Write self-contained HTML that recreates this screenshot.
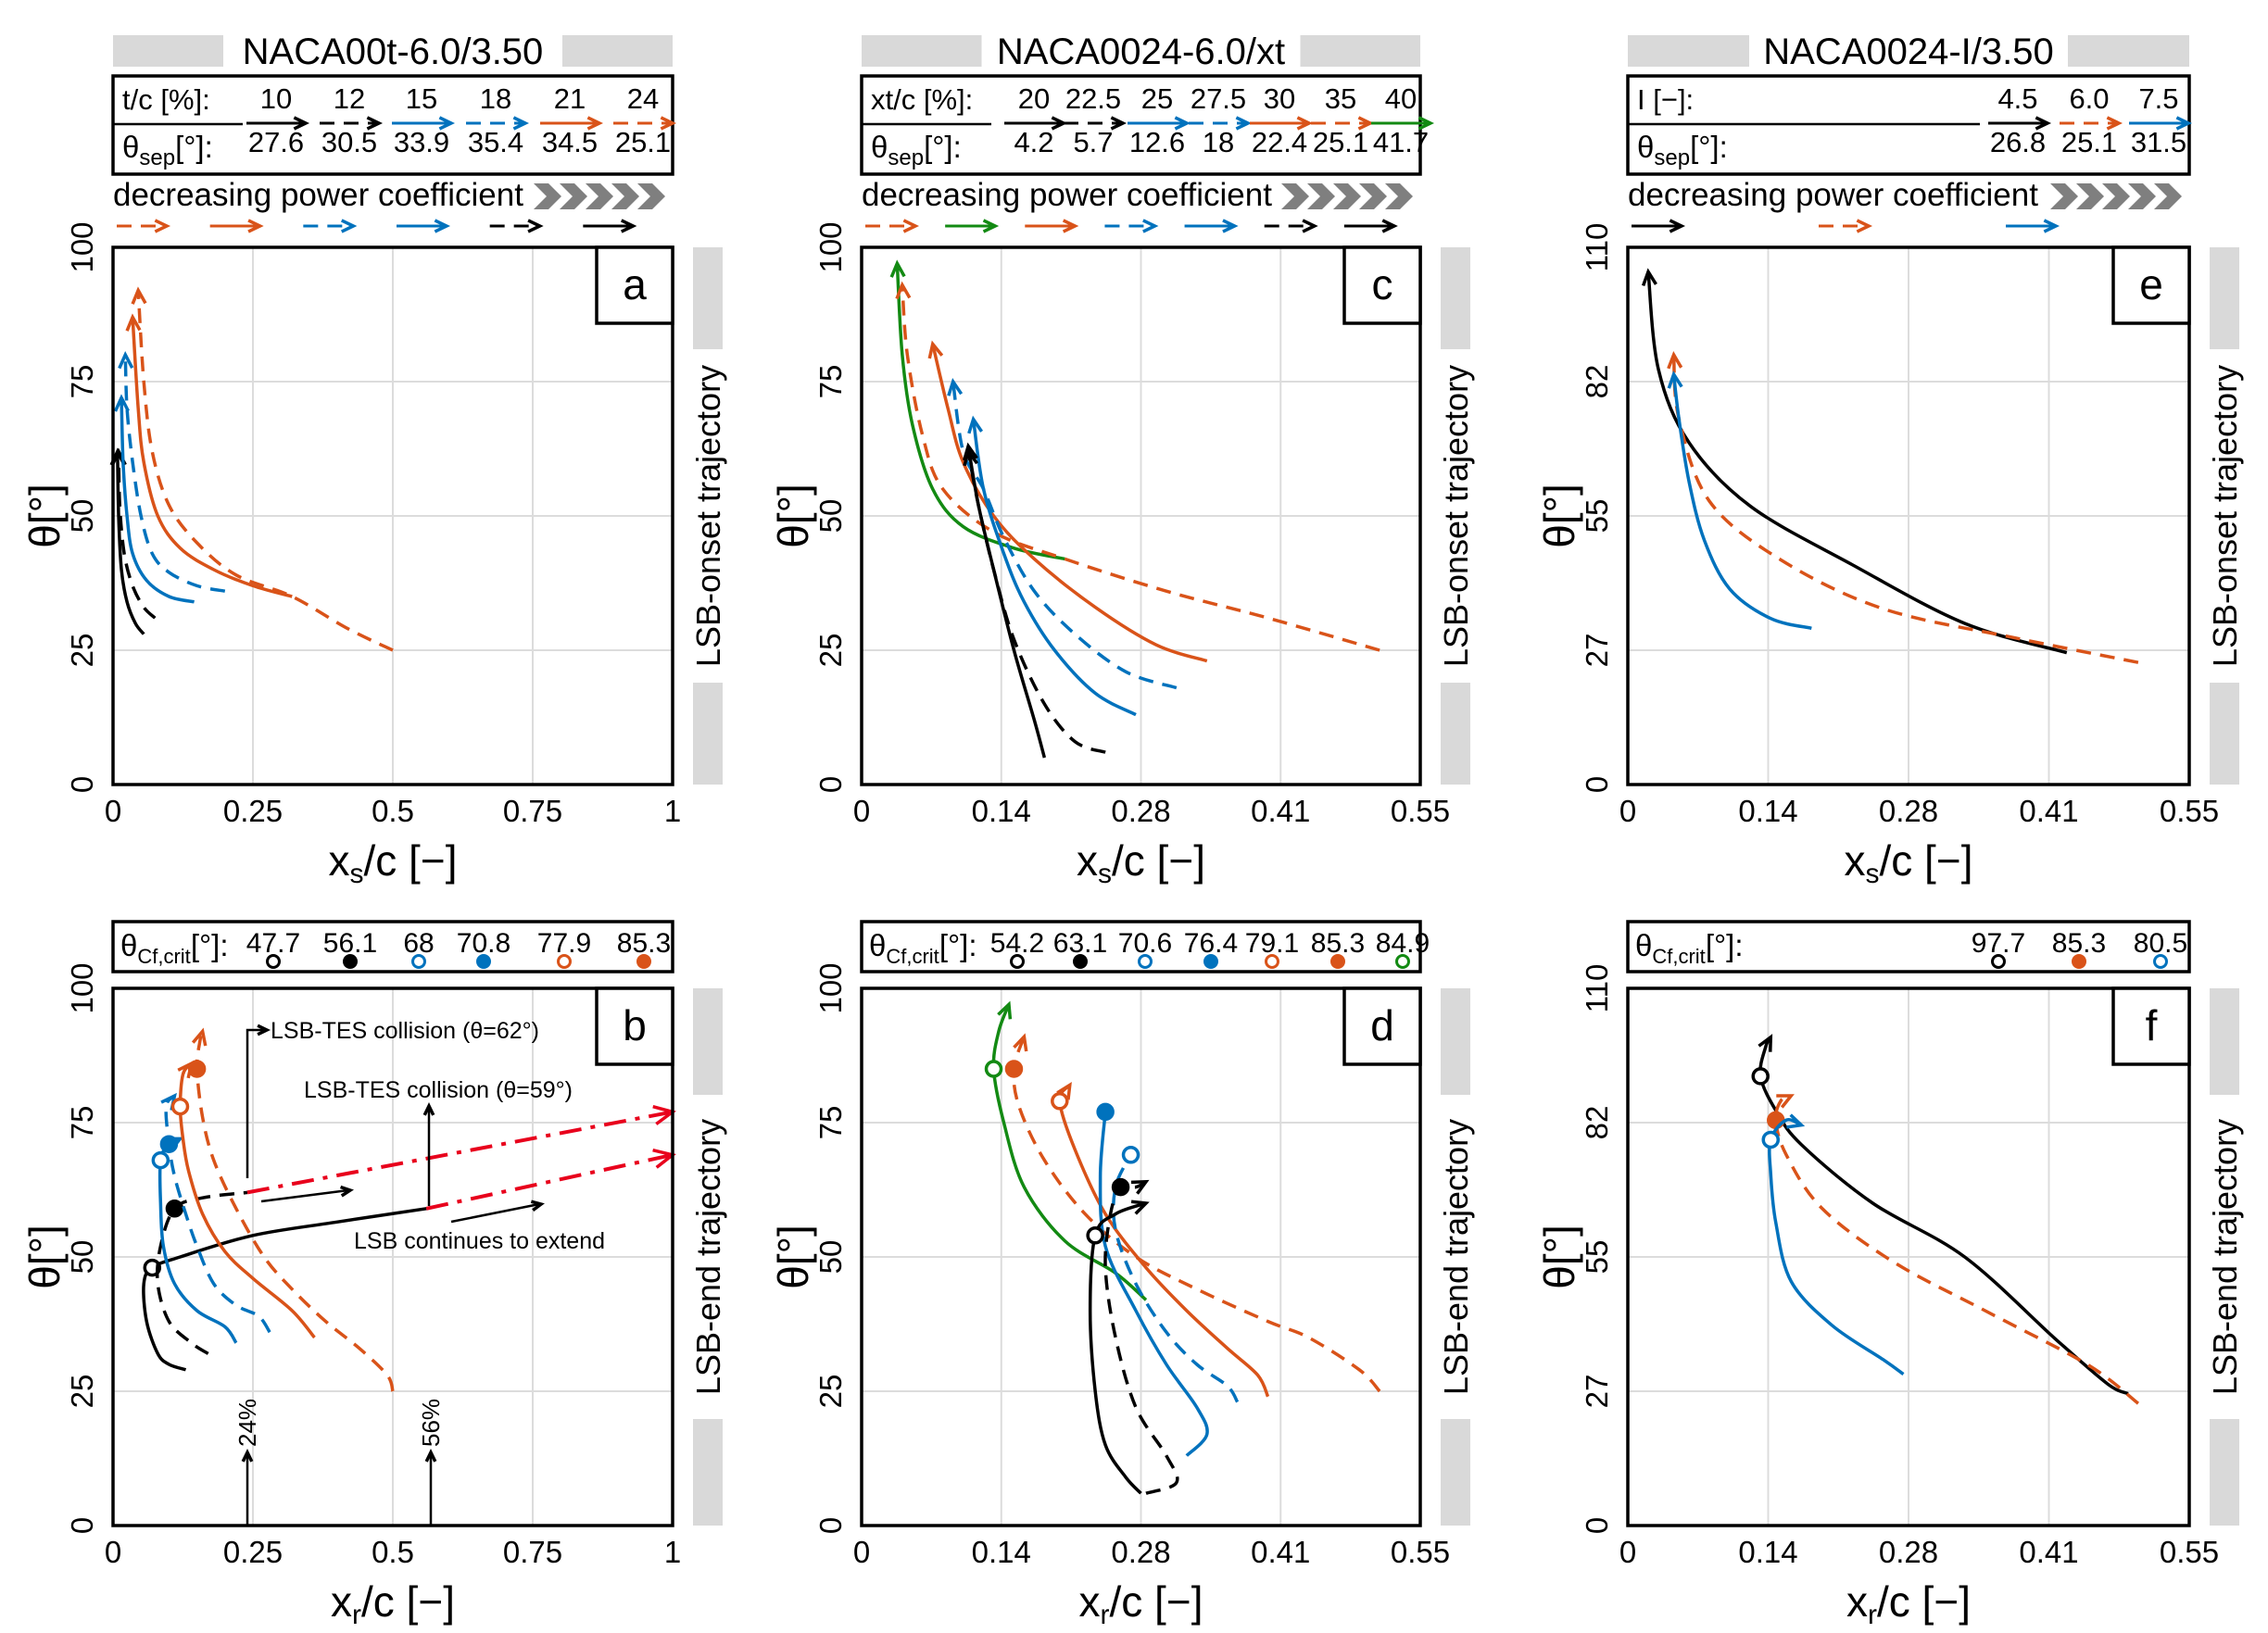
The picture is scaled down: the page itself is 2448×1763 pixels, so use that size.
<!DOCTYPE html>
<html><head><meta charset="utf-8"><style>
html,body{margin:0;padding:0;background:#fff}
svg{display:block;font-family:"Liberation Sans",sans-serif}
</style></head><body>
<svg id="fig" width="2448" height="1763" viewBox="0 0 2448 1763" xmlns="http://www.w3.org/2000/svg"></svg>
<script>
// ---- data ----
const C={k:'#000000',b:'#0072BD',o:'#D95319',g:'#138A13',r:'#E8001C'};
const aSeries=[
 {c:'k',d:0,p:[[0.055,28],[0.04,30],[0.025,34],[0.015,40],[0.01,50],[0.008,62]]},
 {c:'k',d:1,p:[[0.075,31],[0.055,33],[0.035,37],[0.02,43],[0.012,52],[0.01,62]]},
 {c:'b',d:0,p:[[0.145,34],[0.1,35],[0.06,38],[0.035,43],[0.025,50],[0.018,60],[0.015,72]]},
 {c:'b',d:1,p:[[0.2,36],[0.15,37],[0.1,39.5],[0.07,43],[0.05,50],[0.035,60],[0.025,70],[0.022,80]]},
 {c:'o',d:0,p:[[0.32,35],[0.25,37],[0.18,40],[0.12,44],[0.08,50],[0.055,60],[0.045,70],[0.035,87]]},
 {c:'o',d:1,p:[[0.5,25],[0.42,29],[0.32,35],[0.22,39],[0.15,45],[0.1,52],[0.07,62],[0.055,75],[0.045,92]]}];
const cSeries=[
 {c:'g',d:0,p:[[0.2,42],[0.15,44],[0.1,48],[0.07,55],[0.05,67],[0.04,80],[0.035,97]]},
 {c:'o',d:1,p:[[0.51,25],[0.4,31],[0.3,36],[0.2,42],[0.13,47],[0.08,55],[0.06,65],[0.045,80],[0.04,93]]},
 {c:'o',d:0,p:[[0.34,23],[0.29,26],[0.23,33],[0.17,42],[0.13,50],[0.1,60],[0.085,70],[0.07,82]]},
 {c:'b',d:1,p:[[0.31,18],[0.26,21],[0.21,28],[0.17,36],[0.14,46],[0.12,55],[0.1,62],[0.09,75]]},
 {c:'b',d:0,p:[[0.27,13],[0.23,17],[0.19,25],[0.16,34],[0.14,43],[0.12,55],[0.11,68]]},
 {c:'k',d:1,p:[[0.24,6],[0.21,8],[0.18,15],[0.15,27],[0.13,40],[0.115,52],[0.105,62]]},
 {c:'k',d:0,p:[[0.18,5],[0.17,12],[0.15,25],[0.13,40],[0.115,52],[0.105,63]]}];
const eSeries=[
 {c:'k',d:0,p:[[0.43,27],[0.33,33],[0.22,45],[0.12,57],[0.06,70],[0.03,85],[0.02,105]]},
 {c:'o',d:1,p:[[0.5,25],[0.38,30],[0.25,36],[0.15,46],[0.08,58],[0.05,75],[0.045,88]]},
 {c:'b',d:0,p:[[0.18,32],[0.14,34],[0.1,40],[0.075,50],[0.06,62],[0.05,75],[0.045,84]]}];
const bSeries=[
 {c:'k',d:0,m:[0.07,48,0],p:[[0.13,29],[0.1,30],[0.08,32],[0.06,38],[0.055,45],[0.07,48],[0.12,50],[0.25,54],[0.4,56.5],[0.56,59]],noArrow:1},
 {c:'k',d:1,m:[0.11,59,1],p:[[0.17,32],[0.14,34],[0.1,38],[0.08,45],[0.085,52],[0.11,59],[0.16,61],[0.24,62]],noArrow:1},
 {c:'b',d:0,m:[0.085,68,0],p:[[0.22,34],[0.2,37],[0.15,40],[0.11,45],[0.09,52],[0.085,60],[0.085,68],[0.1,71],[0.12,72]]},
 {c:'b',d:1,m:[0.1,71,1],p:[[0.28,36],[0.26,39],[0.22,41],[0.18,45],[0.15,52],[0.13,58],[0.11,65],[0.1,71],[0.095,78],[0.11,80]]},
 {c:'o',d:0,m:[0.12,78,0],p:[[0.36,35],[0.32,40],[0.25,46],[0.2,51],[0.16,58],[0.135,66],[0.125,72],[0.12,78],[0.125,84],[0.14,86]]},
 {c:'o',d:1,m:[0.15,85,1],p:[[0.5,25],[0.49,28],[0.44,33],[0.38,38],[0.32,44],[0.27,50],[0.22,59],[0.18,68],[0.16,76],[0.15,85],[0.155,90],[0.16,92]]},
 {c:'r',d:2,p:[[0.56,59],[1,69]]},
 {c:'r',d:2,p:[[0.24,62],[1,77]]}];
const dSeries=[
 {c:'g',d:0,m:[0.13,85,0],p:[[0.28,42],[0.25,47],[0.2,53],[0.16,63],[0.14,75],[0.13,85],[0.135,92],[0.145,97]]},
 {c:'o',d:1,m:[0.15,85,1],p:[[0.51,25],[0.49,29],[0.44,35],[0.4,38],[0.33,44],[0.27,50],[0.22,58],[0.18,68],[0.155,78],[0.15,85],[0.16,91]]},
 {c:'o',d:0,m:[0.195,79,0],p:[[0.4,24],[0.39,28],[0.36,33],[0.32,40],[0.28,48],[0.24,58],[0.21,70],[0.195,79],[0.205,82]]},
 {c:'b',d:1,m:[0.265,69,0],p:[[0.37,23],[0.36,26],[0.33,30],[0.3,36],[0.27,45],[0.25,55],[0.25,63],[0.265,69]],noArrow:1},
 {c:'b',d:0,m:[0.24,77,1],p:[[0.32,13],[0.34,17],[0.33,22],[0.3,30],[0.27,40],[0.24,52],[0.235,65],[0.24,77]],noArrow:1},
 {c:'k',d:1,m:[0.255,63,1],p:[[0.28,6],[0.31,8],[0.3,13],[0.27,22],[0.25,35],[0.24,48],[0.245,58],[0.255,63],[0.27,63],[0.28,64]]},
 {c:'k',d:0,m:[0.23,54,0],p:[[0.275,6],[0.26,9],[0.24,15],[0.23,25],[0.225,40],[0.23,54],[0.25,58],[0.28,60]]}];
const fSeries=[
 {c:'k',d:0,m:[0.13,92,0],p:[[0.49,27],[0.47,29],[0.42,38],[0.33,55],[0.24,66],[0.17,78],[0.145,85],[0.13,92],[0.135,98],[0.14,100]]},
 {c:'o',d:1,m:[0.145,83,1],p:[[0.5,25],[0.45,33],[0.35,44],[0.26,54],[0.19,65],[0.155,76],[0.145,83],[0.15,87],[0.16,88]]},
 {c:'b',d:0,m:[0.14,79,0],p:[[0.27,31],[0.25,34],[0.2,41],[0.16,50],[0.145,62],[0.14,72],[0.14,79],[0.155,83],[0.17,82]]}];
const xTicks1=['0','0.25','0.5','0.75','1'];
const xTicks2=['0','0.14','0.28','0.41','0.55'];
const yTicks1=['0','25','50','75','100'];
const yTicks2=['0','27','55','82','110'];
const legA=['10','12','15','18','21','24'], sepA=['27.6','30.5','33.9','35.4','34.5','25.1'];
const legC=['20','22.5','25','27.5','30','35','40'], sepC=['4.2','5.7','12.6','18','22.4','25.1','41.7'];
const legE=['4.5','6.0','7.5'], sepE=['26.8','25.1','31.5'];
const critB=['47.7','56.1','68','70.8','77.9','85.3'], critD=['54.2','63.1','70.6','76.4','79.1','85.3','84.9'], critF=['97.7','85.3','80.5'];

// ---- helpers ----
const svg=document.getElementById('fig');const NS='http://www.w3.org/2000/svg';
function el(t,a,txt,parent){const e=document.createElementNS(NS,t);for(const k in a)e.setAttribute(k,a[k]);if(txt!=null)e.textContent=txt;(parent||svg).appendChild(e);return e;}
const DASH=['none','16 10','24 10 5 10'];
function smoothPath(pts){if(pts.length<3)return 'M'+pts.map(q=>q.join(',')).join(' L');
 let d='M'+pts[0][0]+','+pts[0][1];
 for(let i=0;i<pts.length-1;i++){const p0=pts[i-1]||pts[i],p1=pts[i],p2=pts[i+1],p3=pts[i+2]||p2;
  const c1=[p1[0]+(p2[0]-p0[0])/6,p1[1]+(p2[1]-p0[1])/6],c2=[p2[0]-(p3[0]-p1[0])/6,p2[1]-(p3[1]-p1[1])/6];
  d+=` C${c1[0]},${c1[1]} ${c2[0]},${c2[1]} ${p2[0]},${p2[1]}`;}
 return d;}
function arrowHead(x,y,px,py,col,g,sz){const a=Math.atan2(y-py,x-px);sz=sz||16;
 const p=[[x-sz*Math.cos(a-0.45),y-sz*Math.sin(a-0.45)],[x,y],[x-sz*Math.cos(a+0.45),y-sz*Math.sin(a+0.45)]];
 const e=el('polyline',{points:p.map(q=>q.join(',')).join(' '),fill:'none',stroke:col,'stroke-width':3.5},null,g);
 }
function arrowLine(x1,y1,x2,y2,col,dash,g,w){const e=el('line',{x1,y1,x2,y2,stroke:col,'stroke-width':w||3.5,'stroke-dasharray':dash||'none'},null,g);
 arrowHead(x2,y2,x1,y1,col,g,14);}

const cols=[[122,726],[930,1533],[1757,2363]];
const rows=[[267,847],[1067,1647]];

function panel(ci,ri,letter,xmax,ymax,xt,yt,series,xlab,side){
 const [X0,X1]=cols[ci],[Y0,Y1]=rows[ri];
 const g=el('g',{});
 const sx=v=>X0+(X1-X0)*v/xmax, sy=v=>Y1-(Y1-Y0)*v/ymax;
 for(let i=1;i<xt.length-1;i++){const x=X0+(X1-X0)*i/(xt.length-1);const l=el('line',{x1:x,y1:Y0,x2:x,y2:Y1,stroke:'#dcdcdc','stroke-width':2},null,g);}
 for(let i=1;i<yt.length-1;i++){const y=Y1-(Y1-Y0)*i/(yt.length-1);const l=el('line',{x1:X0,y1:y,x2:X1,y2:y,stroke:'#dcdcdc','stroke-width':2},null,g);}
 xt.forEach((t,i)=>{const x=X0+(X1-X0)*i/(xt.length-1);const e=el('text',{x:x,y:Y1+40,'font-size':33,'text-anchor':'middle'},t,g);});
 yt.forEach((t,i)=>{const y=Y1-(Y1-Y0)*i/(yt.length-1);const e=el('text',{x:0,y:0,'font-size':33,'text-anchor':'middle',transform:`translate(${X0-22},${y}) rotate(-90)`},t,g);});
 const xtl=el('text',{x:(X0+X1)/2,y:Y1+98,'font-size':46,'text-anchor':'middle'},null,g);
 el('tspan',{},'x',xtl);el('tspan',{'font-size':30,dy:8},xlab,xtl);el('tspan',{dy:-8},'/c [\u2212]',xtl);
 const ytl=el('text',{x:0,y:0,'font-size':46,'text-anchor':'middle',transform:`translate(${X0-58},${(Y0+Y1)/2}) rotate(-90)`},'\u03B8[\u00B0]',g);
 series.forEach(s=>{const pts=s.p.map(q=>[sx(q[0]),sy(q[1])]);
  const pl=el('path',{d:smoothPath(pts),fill:'none',stroke:C[s.c],'stroke-width':s.d==2?4:3.5,'stroke-dasharray':DASH[s.d],'stroke-linejoin':'round'},null,g);
  
  if(!s.noArrow){const n=pts.length;arrowHead(pts[n-1][0],pts[n-1][1],pts[n-2][0],pts[n-2][1],C[s.c],g,s.d==2?22:16);}
  if(s.m){const mk=el('circle',{cx:sx(s.m[0]),cy:sy(s.m[1]),r:8,fill:s.m[2]?C[s.c]:'#fff',stroke:C[s.c],'stroke-width':3.5},null,g);}
 });
 const fr=el('rect',{x:X0,y:Y0,width:X1-X0,height:Y1-Y0,fill:'none',stroke:'#000','stroke-width':3.5},null,g);
 const lb=el('rect',{x:X1-82,y:Y0,width:82,height:82,fill:'#fff',stroke:'#000','stroke-width':3.5},null,g);
 const lt=el('text',{x:X1-41,y:Y0+56,'font-size':46,'text-anchor':'middle'},letter,g);
 const bx=X1+22;const mid=Y0+(Y1-Y0)*0.5;const half=ri==0?180:175;
 const gb1=el('rect',{x:bx,y:Y0,width:32,height:mid-half-Y0,fill:'#d9d9d9'},null,g);
 const gb2=el('rect',{x:bx,y:mid+half,width:32,height:Y1-mid-half,fill:'#d9d9d9'},null,g);
 const st=el('text',{x:0,y:0,'font-size':36,'text-anchor':'middle',transform:`translate(${bx+29},${mid}) rotate(-90)`},side,g);
 return {sx,sy,g};
}

panel(0,0,'a',1,100,xTicks1,yTicks1,aSeries,'s','LSB-onset trajectory');
panel(1,0,'c',0.55,100,xTicks2,yTicks1,cSeries,'s','LSB-onset trajectory');
panel(2,0,'e',0.55,110,xTicks2,yTicks2,eSeries,'s','LSB-onset trajectory');
const pb=panel(0,1,'b',1,100,xTicks1,yTicks1,bSeries,'r','LSB-end trajectory');
panel(1,1,'d',0.55,100,xTicks2,yTicks1,dSeries,'r','LSB-end trajectory');
panel(2,1,'f',0.55,110,xTicks2,yTicks2,fSeries,'r','LSB-end trajectory');

function header(ci,title,lab1,vals,seps,styles,xs,order){
 const [X0,X1]=cols[ci];const g=el('g',{});
 const tb=el('rect',{x:X0,y:38,width:X1-X0,height:34,fill:'#d9d9d9'},null,g);
 const tw=title.length*22+14;const wb=el('rect',{x:(X0+X1)/2-tw/2,y:36,width:tw,height:38,fill:'#fff'},null,g);
 const tt=el('text',{x:(X0+X1)/2,y:69,'font-size':40,'text-anchor':'middle'},title,g);
 const bx=el('rect',{x:X0,y:82,width:X1-X0,height:106,fill:'#fff',stroke:'#000','stroke-width':3.5},null,g);
 const sl=el('line',{x1:X0,y1:134,x2:X0+(ci==2?380:140),y2:134,stroke:'#000','stroke-width':2.5},null,g);
 const l1=el('text',{x:X0+10,y:118,'font-size':31},lab1,g);
 const l2=el('text',{x:X0+10,y:170,'font-size':33},null,g);
 el('tspan',{},'\u03B8',l2);el('tspan',{'font-size':24,dy:8},'sep',l2);el('tspan',{dy:-8},'[\u00B0]:',l2);
 vals.forEach((v,i)=>{const x=xs[i];
  const t=el('text',{x:x,y:117,'font-size':31,'text-anchor':'middle'},v,g);
  const s=styles[i];arrowLine(x-32,133,x+32,133,C[s[0]],DASH[s[1]],g,3);
  const t2=el('text',{x:x,y:164,'font-size':31,'text-anchor':'middle'},seps[i],g);});
 const dp=el('text',{x:X0,y:222,'font-size':35},'decreasing power coefficient',g);
 for(let i=0;i<5;i++){const x=X1-150+i*28;const ch=el('polygon',{points:`${x},198 ${x+16},198 ${x+30},212 ${x+16},226 ${x},226 ${x+14},212`,fill:'#7f7f7f'},null,g);}
 const n=order.length;const step=(X1-X0)/n;
 order.forEach((s,i)=>{const x=X0+step*i;arrowLine(x+4,244,x+58,244,C[s[0]],DASH[s[1]],g,3);});
}
header(0,'NACA00t-6.0/3.50','t/c [%]:',legA,sepA,[['k',0],['k',1],['b',0],['b',1],['o',0],['o',1]],[298,377,455,535,615,694],[['o',1],['o',0],['b',1],['b',0],['k',1],['k',0]]);
header(1,'NACA0024-6.0/xt','xt/c [%]:',legC,sepC,[['k',0],['k',1],['b',0],['b',1],['o',0],['o',1],['g',0]],[1116,1180,1249,1315,1381,1447,1512],[['o',1],['g',0],['o',0],['b',1],['b',0],['k',1],['k',0]]);
header(2,'NACA0024-I/3.50','I [\u2212]:',legE,sepE,[['k',0],['o',1],['b',0]],[2178,2255,2330],[['k',0],['o',1],['b',0]]);

function crit(ci,vals,styles,xs){const [X0,X1]=cols[ci];const g=el('g',{});
 const bx=el('rect',{x:X0,y:995,width:X1-X0,height:54,fill:'#fff',stroke:'#000','stroke-width':3.5},null,g);
 const l=el('text',{x:X0+8,y:1032,'font-size':33},null,g);
 el('tspan',{},'\u03B8',l);el('tspan',{'font-size':22,dy:8},'Cf,crit',l);el('tspan',{dy:-8},'[\u00B0]:',l);
 vals.forEach((v,i)=>{const t=el('text',{x:xs[i],y:1028,'font-size':30,'text-anchor':'middle'},v,g);
  const s=styles[i];const m=el('circle',{cx:xs[i],cy:1038,r:6.5,fill:s[1]?C[s[0]]:'#fff',stroke:C[s[0]],'stroke-width':3},null,g);});}
crit(0,critB,[['k',0],['k',1],['b',0],['b',1],['o',0],['o',1]],[295,378,452,522,609,695]);
crit(1,critD,[['k',0],['k',1],['b',0],['b',1],['o',0],['o',1],['g',0]],[1098,1166,1236,1307,1373,1444,1514]);
crit(2,critF,[['k',0],['o',1],['b',0]],[2157,2244,2332]);

const ag=pb.g;
function ann(x,y,t,fs){const e=el('text',{x,y,'font-size':fs||25},t,ag);return e;}
el('polyline',{points:'267,1272 267,1112 286,1112',fill:'none',stroke:'#000','stroke-width':2.5},null,ag);arrowHead(288,1112,267,1112,'#000',ag,11);
ann(292,1121,'LSB-TES collision (\u03B8=62\u00B0)');
el('line',{x1:463,y1:1302,x2:463,y2:1196,stroke:'#000','stroke-width':2.5},null,ag);arrowHead(463,1194,463,1300,'#000',ag,11);
ann(328,1185,'LSB-TES collision (\u03B8=59\u00B0)');
el('line',{x1:282,y1:1297,x2:376,y2:1285,stroke:'#000','stroke-width':2.5},null,ag);arrowHead(378,1285,282,1297,'#000',ag,11);
el('line',{x1:487,y1:1319,x2:582,y2:1300,stroke:'#000','stroke-width':2.5},null,ag);arrowHead(584,1300,487,1319,'#000',ag,11);
ann(382,1348,'LSB continues to extend');
[[267,'24%'],[465,'56%']].forEach(q=>{el('line',{x1:q[0],y1:1647,x2:q[0],y2:1570,stroke:'#000','stroke-width':2.5},null,ag);arrowHead(q[0],1568,q[0],1640,'#000',ag,11);
 const t=el('text',{x:0,y:0,'font-size':26,'text-anchor':'start',transform:`translate(${q[0]+9},${1562}) rotate(-90)`},q[1],ag);});
</script>
</body></html>
